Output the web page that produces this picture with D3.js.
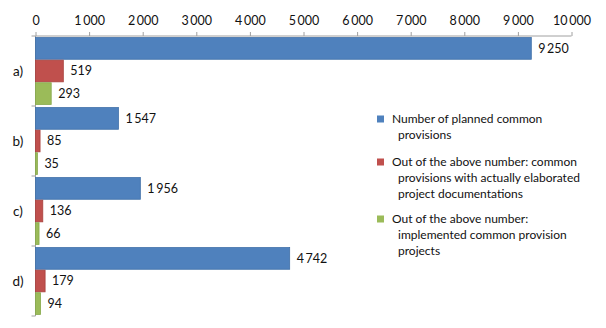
<!DOCTYPE html>
<html><head><meta charset="utf-8">
<script src="https://cdn.jsdelivr.net/npm/d3@7"></script>
<style>body{margin:0;background:#fff}svg{display:block}text{font-family:Lato,"Open Sans",sans-serif;fill:#111}</style>
</head><body><svg id="c" width="606" height="328"></svg>
<script>
const categories = ["a)", "b)", "c)", "d)"];
const seriesNames = [
  "Number of planned common provisions",
  "Out of the above number: common provisions with actually elaborated project documentations",
  "Out of the above number: implemented common provision projects"
];
const planned = [9250, 1547, 1956, 4742];
const documented = [519, 85, 136, 179];
const implemented = [293, 35, 66, 94];
const tickValues = [0,1000,2000,3000,4000,5000,6000,7000,8000,9000,10000];
const legendLines = [
  ["Number of planned common", "provisions"],
  ["Out of the above number: common", "provisions with actually elaborated", "project documentations"],
  ["Out of the above number:", "implemented common provision", "projects"]
];
const colors = ["#4F81BD", "#C0504D", "#9BBB59"];
const strokes = ["#3F6FA8", "#A8403D", "#86A84A"];

const series = [planned, documented, implemented];
const svg = d3.select("#c");
const fmt = v => d3.format(",")(v).replace(/,/g, "\u2009");

const x = d3.scaleLinear().domain([0, 10000]).range([35.5, 571.5]);
const y = d3.scaleBand().domain(categories).range([36, 316]).paddingInner(0).paddingOuter(0);
const inner = d3.scaleBand().domain([0,1,2]).range([0, y.bandwidth()]).paddingInner(0.04).paddingOuter(0.07);

// axes
const xAxis = d3.axisTop(x).tickValues(tickValues).tickSize(4).tickFormat(fmt);
const gx = svg.append("g").attr("transform", "translate(0,36)").call(xAxis);
gx.select(".domain").attr("stroke", "#a0a0a0").attr("d", `M${x(0)},0H${x(10000)}`);
gx.selectAll(".tick line").attr("stroke", "#a0a0a0");
gx.selectAll(".tick text").attr("y", -11).style("font-size", "12.5px").style("font-family", "Lato,'Open Sans',sans-serif").attr("fill", "#111");

const gy = svg.append("g").attr("transform", `translate(${x(0)},0)`);
gy.append("line").attr("x1",0).attr("x2",0).attr("y1",36).attr("y2",316).attr("stroke","#a0a0a0");
const bounds = categories.map(c => y(c)).concat([y(categories[3]) + y.bandwidth()]);
gy.selectAll("line.t").data(bounds).enter().append("line").attr("class","t")
  .attr("x1",-4).attr("x2",0).attr("y1",d=>d).attr("y2",d=>d).attr("stroke","#a0a0a0");
svg.selectAll("text.cat").data(categories).enter().append("text").attr("class","cat")
  .attr("x", 18).attr("y", d => y(d) + y.bandwidth()/2).attr("dy","0.35em")
  .attr("text-anchor","middle").style("font-size","13.5px").text(d=>d);

// bars
series.forEach((vals, si) => {
  const g = svg.append("g");
  g.selectAll("rect").data(vals).enter().append("rect")
    .attr("x", x(0)).attr("y", (d,i) => y(categories[i]) + inner(si))
    .attr("width", d => x(d) - x(0)).attr("height", inner.bandwidth())
    .attr("fill", colors[si]).attr("stroke", strokes[si]).attr("stroke-width", 0.8);
  g.selectAll("text").data(vals).enter().append("text")
    .attr("x", d => x(d) + 7).attr("y", (d,i) => y(categories[i]) + inner(si) + inner.bandwidth()/2)
    .attr("dy","0.35em").style("font-size","12.5px").text(d => fmt(d));
});

// legend
const legY = [119, 162, 219];
legendLines.forEach((lines, i) => {
  const g = svg.append("g");
  g.append("rect").attr("x", 377).attr("y", legY[i] - 3.5).attr("width", 7).attr("height", 7).attr("fill", colors[i]);
  lines.forEach((ln, j) => {
    g.append("text").attr("x", j === 0 ? 392 : 398).attr("y", legY[i] + j*16).attr("dy","0.35em")
      .style("font-size","12px").text(ln);
  });
});
</script></body></html>
